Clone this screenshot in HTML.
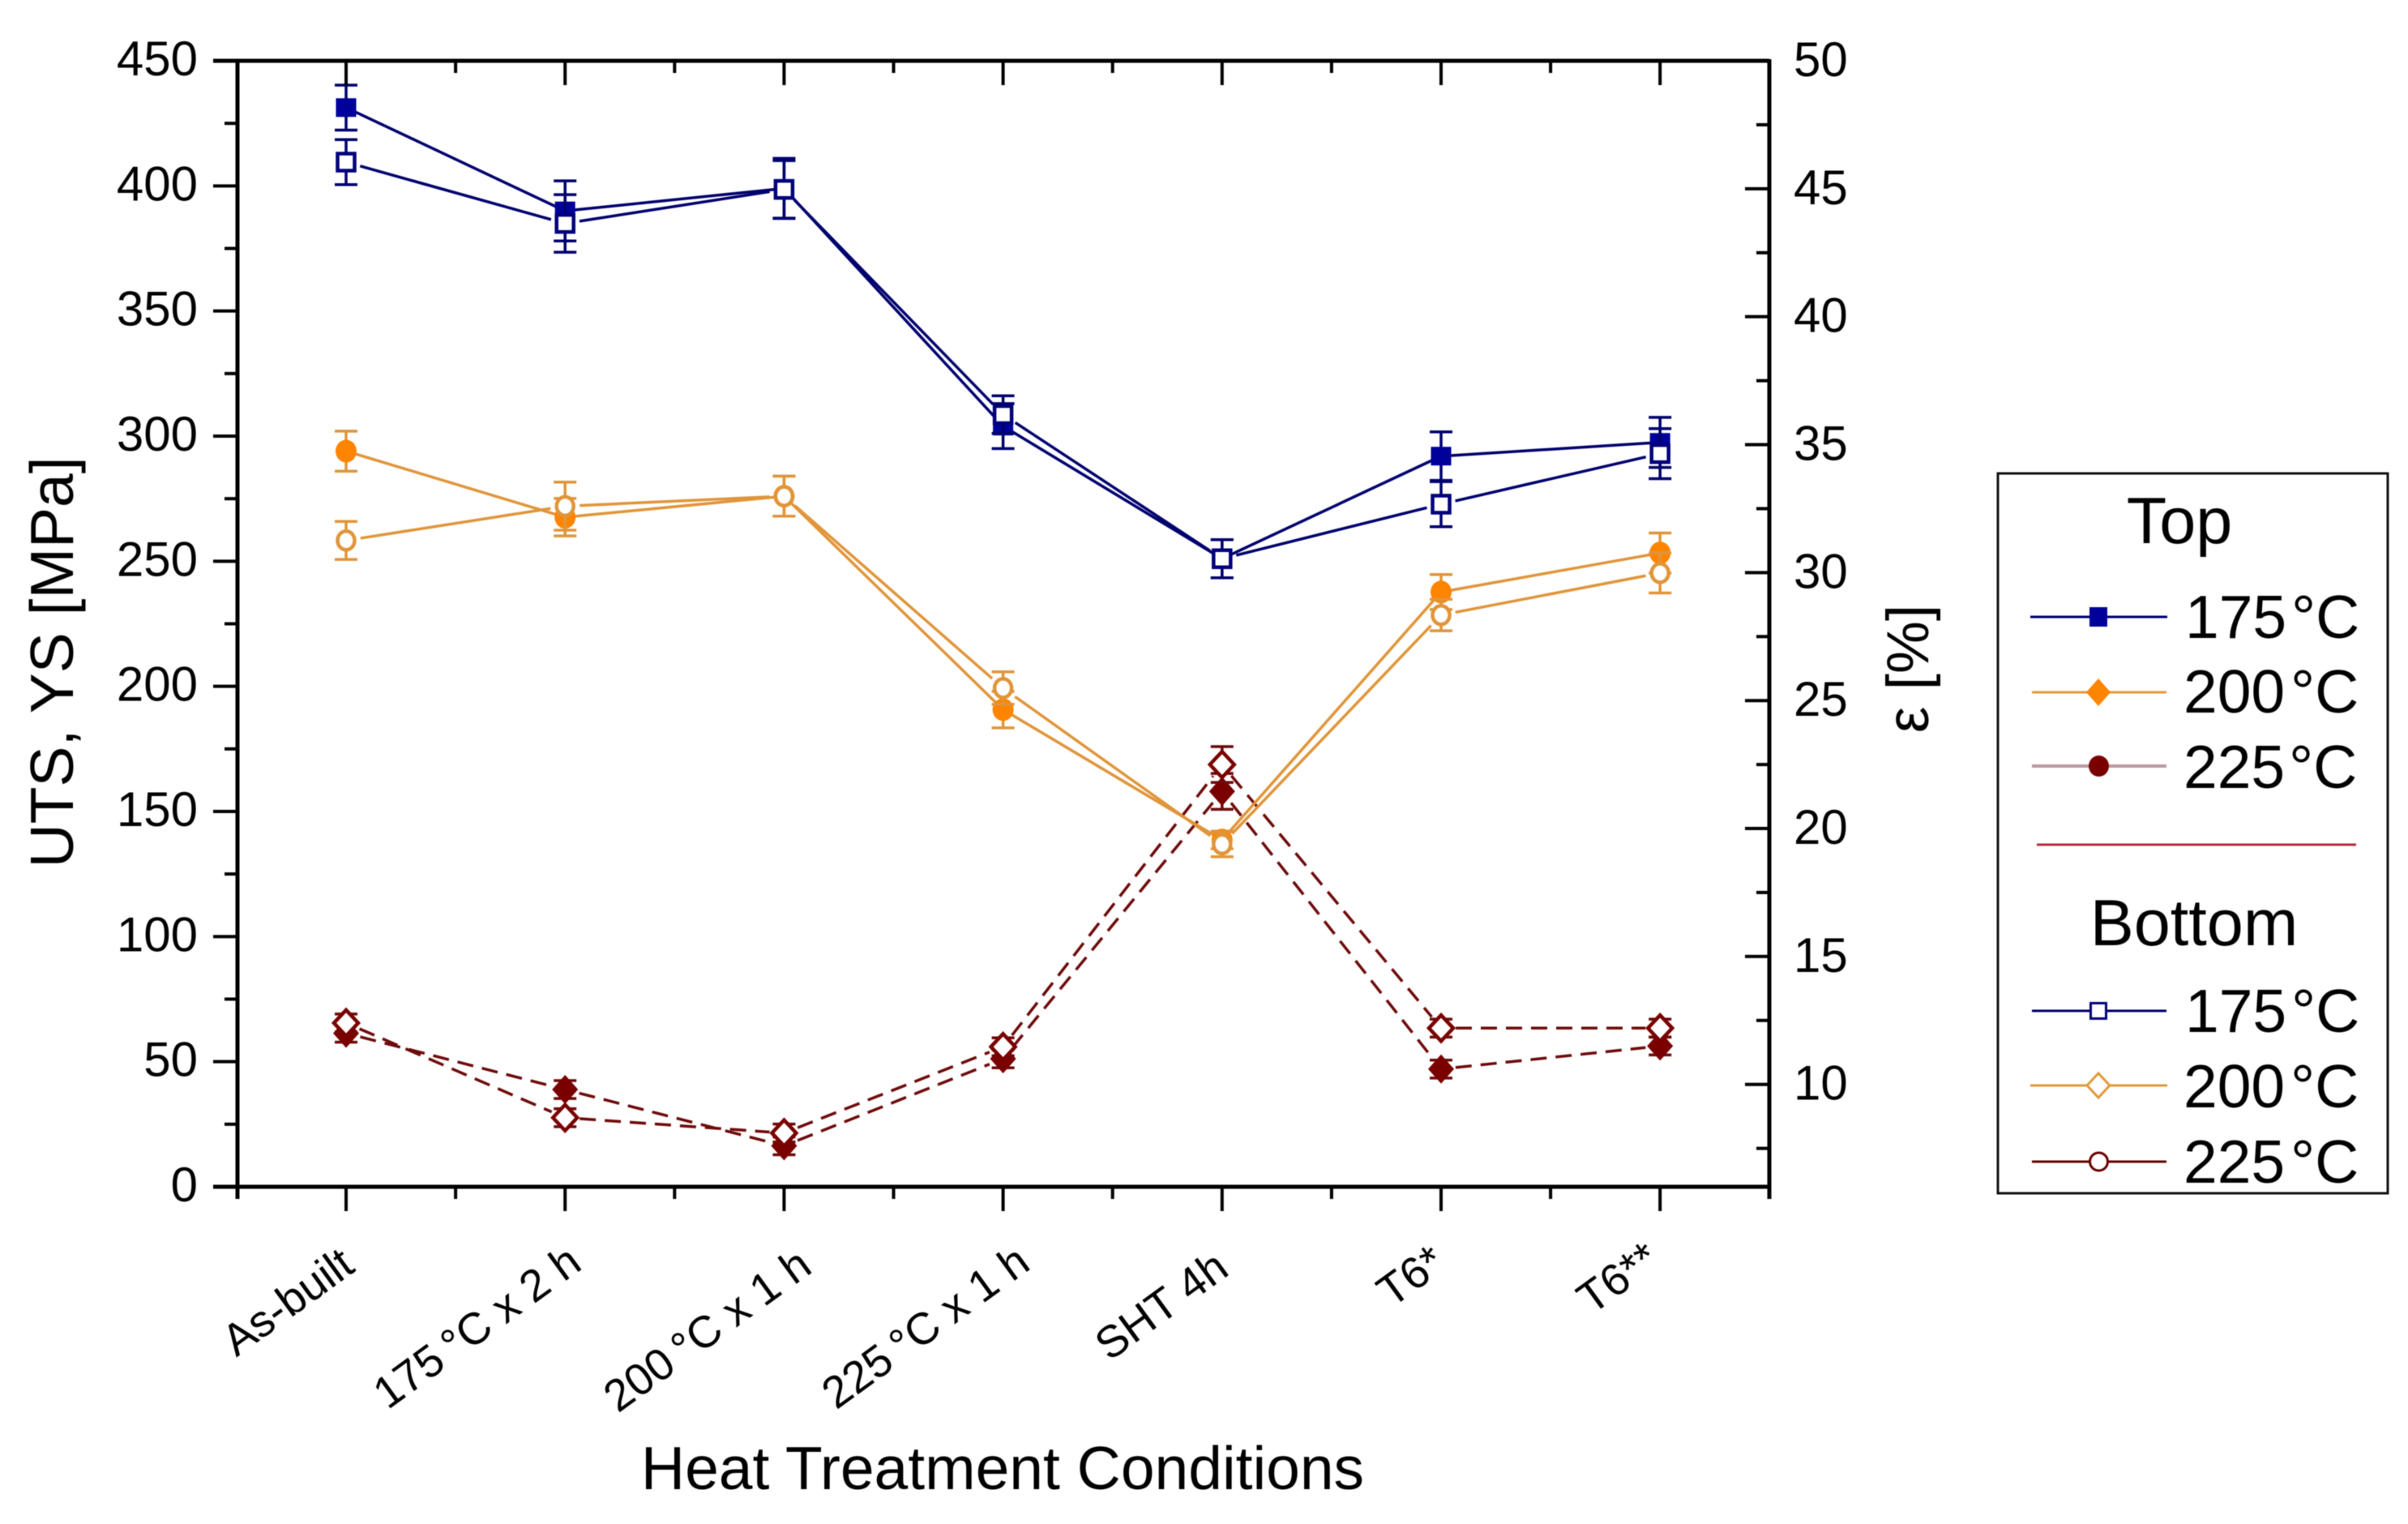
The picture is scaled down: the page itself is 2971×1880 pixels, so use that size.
<!DOCTYPE html>
<html lang="en">
<head>
<meta charset="utf-8">
<title>UTS, YS and elongation versus heat treatment conditions</title>
<style>
  html, body { margin: 0; padding: 0; background: #fff; }
  svg { display: block; font-family: "Liberation Sans", "DejaVu Sans", sans-serif; fill: #000; filter: blur(0.6px); }
  .tick-label { font-size: 60px; }
  .x-label { font-size: 55px; }
  .title { font-size: 75px; }
  .legend-text { font-size: 75px; }
  .legend-head { font-size: 81px; }
</style>
</head>
<body>
<svg id="chart" xmlns="http://www.w3.org/2000/svg" width="2971" height="1880" viewBox="0 0 2971 1880">
  <rect x="0" y="0" width="2971" height="1880" fill="#ffffff"/>
  <g id="series-layer"></g>
  <g id="axis-layer"></g>

  <text class="title" text-anchor="middle" transform="translate(90 817) rotate(-90)">UTS, YS [MPa]</text>
  <text class="title" style="font-size:73px" text-anchor="middle" transform="translate(2379 825) rotate(-90)">ε [%]</text>
  <text class="title" text-anchor="middle" x="1237" y="1837">Heat Treatment Conditions</text>

  <g>
    <rect x="2465" y="584" width="481" height="888" fill="#ffffff" stroke="#111111" stroke-width="3"/>
    <text class="legend-head" text-anchor="middle" x="2689" y="670">Top</text>

    <g>
      <line x1="2505" x2="2674" y1="761" y2="761" stroke="#000070" stroke-width="3"/>
      <rect x="2578" y="749" width="22" height="24" fill="#00009a"/>
      <text class="legend-text" x="2696" y="787">175<tspan dx="6">°C</tspan></text>
    </g>
    <g>
      <line x1="2507" x2="2673" y1="854" y2="854" stroke="#e09a3c" stroke-width="3"/>
      <polygon points="2574,854 2589,837 2604,854 2589,871" fill="#ff8400"/>
      <text class="legend-text" x="2694" y="879">200<tspan dx="7">°C</tspan></text>
    </g>
    <g>
      <line x1="2507" x2="2673" y1="945" y2="945" stroke="#b89a9e" stroke-width="4"/>
      <ellipse cx="2589.500" cy="945" rx="12.500" ry="13" fill="#7a0000"/>
      <text class="legend-text" x="2694" y="972">225<tspan dx="5">°C</tspan></text>
    </g>

    <line x1="2513" x2="2907" y1="1042" y2="1042" stroke="#b03040" stroke-width="3"/>
    <text class="legend-head" text-anchor="middle" x="2707" y="1166">Bottom</text>

    <g>
      <line x1="2507" x2="2673" y1="1247" y2="1247" stroke="#000070" stroke-width="3"/>
      <rect x="2579.500" y="1237.500" width="19" height="19" fill="#ffffff" stroke="#00007a" stroke-width="3"/>
      <text class="legend-text" x="2696" y="1273">175<tspan dx="6">°C</tspan></text>
    </g>
    <g>
      <line x1="2505" x2="2674" y1="1339" y2="1339" stroke="#e09a3c" stroke-width="3"/>
      <polygon points="2575,1339 2589,1324 2603,1339 2589,1354" fill="#ffffff" stroke="#e09a3c" stroke-width="3"/>
      <text class="legend-text" x="2694" y="1366">200<tspan dx="7">°C</tspan></text>
    </g>
    <g>
      <line x1="2507" x2="2673" y1="1433" y2="1433" stroke="#6a0000" stroke-width="3"/>
      <ellipse cx="2589.500" cy="1433" rx="11" ry="11" fill="#ffffff" stroke="#6a0000" stroke-width="3"/>
      <text class="legend-text" x="2694" y="1459">225<tspan dx="7">°C</tspan></text>
    </g>
  </g>
</svg>

<script>
// ---- chart data ----
const categories = ['As-built', '175\u2009°C x 2 h', '200\u2009°C x 1 h', '225\u2009°C x 1 h', 'SHT 4h', 'T6*', 'T6**'];
const leftTicks = [0, 50, 100, 150, 200, 250, 300, 350, 400, 450];
const rightTicks = [10, 15, 20, 25, 30, 35, 40, 45, 50];

const navyFilledValues = [431.3, 390, 399, 304, 251, 292, 297.5];
const navyFilledErrors = [9, 12, 12, 9, 7.6, 9.7, 10];
const navyOpenValues = [409.5, 385, 398.6, 308.6, 251, 272.8, 293];
const navyOpenErrors = [9, 11.5, 11.5, 7.5, 7.6, 9, 10];

const orangeFilledValues = [294, 267.6, 276, 190.7, 138.6, 237.7, 253.3];
const orangeFilledErrors = [8, 7.5, 8, 7.3, 3.5, 7, 8];
const orangeOpenValues = [258.3, 272, 276, 199.3, 136.9, 228.5, 245.3];
const orangeOpenErrors = [7.6, 9.6, 8, 6.5, 5, 6.3, 8];

const maroonFilledValues = [12.0, 9.8, 7.6, 11.0, 21.45, 10.6, 11.5];
const maroonFilledErrors = [0.35, 0.35, 0.35, 0.35, 0.7, 0.35, 0.35];
const maroonOpenValues = [12.4, 8.7, 8.1, 11.47, 22.5, 12.2, 12.2];
const maroonOpenErrors = [0.35, 0.35, 0.35, 0.35, 0.7, 0.35, 0.35];

// ---- plot geometry ----
const plotLeft = 293, plotRight = 2183, plotTop = 75, plotBottom = 1464;
const leftMax = 450, rightMin = 6, rightMax = 50;
const xStart = 427, xStep = 270.2;

function xScale(i) { return xStart + xStep * i; }
function yLeft(v) { return plotBottom - (v / leftMax) * (plotBottom - plotTop); }
function yRight(v) { return plotBottom - ((v - rightMin) / (rightMax - rightMin)) * (plotBottom - plotTop); }

const SVG_NS = 'http://www.w3.org/2000/svg';
function add(parent, tag, attrs) {
  const el = document.createElementNS(SVG_NS, tag);
  for (const k in attrs) el.setAttribute(k, attrs[k]);
  parent.appendChild(el);
  return el;
}

// ---- series ----
const seriesLayer = document.getElementById('series-layer');

function drawMarker(parent, shape, open, cx, cy, fill, stroke) {
  const paint = open ? { fill: '#ffffff', stroke: stroke, 'stroke-width': 4.5 } : { fill: fill };
  if (shape === 'square') {
    const w = open ? 21 : 25, h = open ? 21 : 23;
    return add(parent, 'rect', Object.assign({ x: cx - w / 2, y: cy - h / 2, width: w, height: h }, paint));
  }
  if (shape === 'circle') {
    return add(parent, 'ellipse', Object.assign({ cx: cx, cy: cy, rx: open ? 10.5 : 13, ry: open ? 11.5 : 14 }, paint));
  }
  const rx = open ? 15 : 16, ry = open ? 16 : 18;
  return add(parent, 'polygon', Object.assign({
    points: [[cx - rx, cy], [cx, cy - ry], [cx + rx, cy], [cx, cy + ry]].map(p => p.join(',')).join(' ')
  }, paint));
}

function drawSeries(name, values, errors, yFn, shape, open, lineColor, fillColor, dashed) {
  const g = add(seriesLayer, 'g', {});
  
  

  const gap = (open || dashed) ? 18 : 4;
  for (let i = 0; i < values.length - 1; i++) {
    const x1 = xScale(i), y1 = yFn(values[i]), x2 = xScale(i + 1), y2 = yFn(values[i + 1]);
    const len = Math.hypot(x2 - x1, y2 - y1);
    const ux = (x2 - x1) / len, uy = (y2 - y1) / len;
    const seg = add(g, 'line', {
      x1: x1 + ux * gap, y1: y1 + uy * gap, x2: x2 - ux * gap, y2: y2 - uy * gap,
      stroke: lineColor, 'stroke-width': 3.5, 'stroke-dasharray': dashed ? '20 11' : 'none'
    });
    
    
  }

  values.forEach((v, i) => {
    const cx = xScale(i), cy = yFn(v);
    const hi = yFn(v + errors[i]), lo = yFn(v - errors[i]);
    const bar = add(g, 'path', {
      d: 'M' + cx + ' ' + hi + 'V' + lo + 'M' + (cx - 14) + ' ' + hi + 'H' + (cx + 14) + 'M' + (cx - 14) + ' ' + lo + 'H' + (cx + 14),
      fill: 'none', stroke: lineColor, 'stroke-width': 3.5
    });
    
    

    const mark = drawMarker(g, shape, open, cx, cy, fillColor, open ? fillColor : lineColor);
    
    
  });
}

const navyLine = '#00006e', navyFill = '#00009a';
const orangeLine = '#e0953a', orangeFill = '#ff8400';
const maroonLine = '#6e0a0a', maroonFill = '#7a0000';

drawSeries('maroon-filled', maroonFilledValues, maroonFilledErrors, yRight, 'diamond', false, maroonLine, maroonFill, true);
drawSeries('maroon-open', maroonOpenValues, maroonOpenErrors, yRight, 'diamond', true, maroonLine, maroonFill, true);
drawSeries('orange-filled', orangeFilledValues, orangeFilledErrors, yLeft, 'circle', false, orangeLine, orangeFill, false);
drawSeries('orange-open', orangeOpenValues, orangeOpenErrors, yLeft, 'circle', true, orangeLine, orangeLine, false);
drawSeries('navy-filled', navyFilledValues, navyFilledErrors, yLeft, 'square', false, navyLine, navyFill, false);
drawSeries('navy-open', navyOpenValues, navyOpenErrors, yLeft, 'square', true, navyLine, '#00007a', false);

// ---- axes ----
const axisLayer = document.getElementById('axis-layer');
const axisStyle = { stroke: '#000000', 'stroke-width': 5 };

function axisLine(name, x1, y1, x2, y2, width) {
  const l = add(axisLayer, 'line', Object.assign({}, axisStyle, { x1: x1, y1: y1, x2: x2, y2: y2, 'stroke-width': width || 5 }));
  
  
  return l;
}

axisLine('left-y-axis', plotLeft, plotTop - 2, plotLeft, plotBottom + 15);
axisLine('right-y-axis', plotRight, plotTop - 2, plotRight, plotBottom + 15);
axisLine('top-x-axis', plotLeft - 30, plotTop, plotRight, plotTop);
axisLine('bottom-x-axis', plotLeft - 30, plotBottom, plotRight, plotBottom);

// left axis: ticks outward
leftTicks.forEach((v, i) => {
  const y = yLeft(v);
  if (v !== 0 && v !== leftMax) axisLine('left-major-tick', plotLeft - 30, y, plotLeft, y, 4);
  if (i < leftTicks.length - 1) axisLine('left-minor-tick', plotLeft - 16, yLeft(v + 25), plotLeft, yLeft(v + 25), 4);
  const t = add(axisLayer, 'text', { x: 244, y: y + 18, 'text-anchor': 'end', class: 'tick-label' });
  t.textContent = String(v);
  
  
});

// right axis: ticks inward
rightTicks.forEach((v) => {
  const y = yRight(v);
  if (v !== rightMax) axisLine('right-major-tick', plotRight - 30, y, plotRight, y, 4);
  axisLine('right-minor-tick', plotRight - 16, yRight(v - 2.5), plotRight, yRight(v - 2.5), 4);
  const t = add(axisLayer, 'text', { x: 2213, y: y + 19, class: 'tick-label' });
  t.textContent = String(v);
  
  
});

// x axis: major at categories, minor between; bottom outward, top inward
const xLabelShift = [13, 23, 37, 36, 11, 8, 2];
const xLabelBaseline = [1567, 1564, 1568, 1564, 1571, 1564, 1560];
categories.forEach((c, i) => {
  const x = xScale(i);
  axisLine('bottom-major-tick', x, plotBottom, x, plotBottom + 30, 4);
  axisLine('top-major-tick', x, plotTop, x, plotTop + 30, 4);
  if (i < categories.length - 1) {
    axisLine('bottom-minor-tick', xScale(i + 0.5), plotBottom, xScale(i + 0.5), plotBottom + 15, 4);
    axisLine('top-minor-tick', xScale(i + 0.5), plotTop, xScale(i + 0.5), plotTop + 15, 4);
  }
  const t = add(axisLayer, 'text', {
    'text-anchor': 'end', class: 'x-label',
    transform: 'translate(' + (x + xLabelShift[i]) + ' ' + xLabelBaseline[i] + ') rotate(-36)'
  });
  t.textContent = c;
  
  
});
</script>
</body>
</html>
